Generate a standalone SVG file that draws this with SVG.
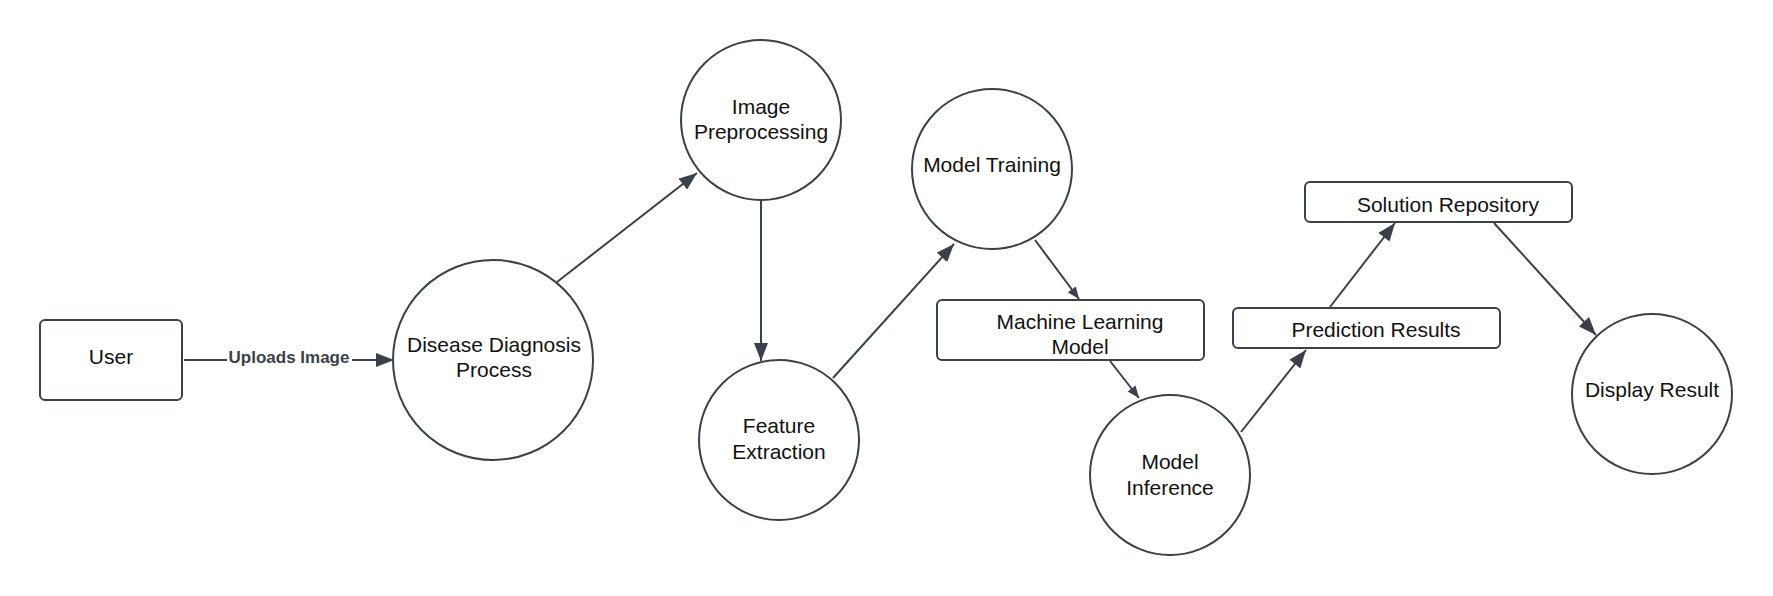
<svg xmlns="http://www.w3.org/2000/svg" width="1773" height="596" viewBox="0 0 1773 596">
<style>
.shape{fill:#fff;stroke:#3a414a;stroke-width:2}
.t{font-family:"Liberation Sans",Arial,sans-serif;font-size:21px;fill:#111;text-anchor:middle}
.lbl{font-family:"Liberation Sans",Arial,sans-serif;font-size:17px;font-weight:bold;fill:#3a414a;text-anchor:middle}
.edge{stroke:#3a414a;stroke-width:2;fill:none}
.big{marker-end:url(#ah)}
.small{marker-end:url(#ahs)}
</style>
<defs>
<marker id="ah" markerUnits="userSpaceOnUse" markerWidth="18" markerHeight="14" refX="18" refY="7" orient="auto"><path d="M0,0 L18,7 L0,14 z" fill="#3a414a"/></marker>
<marker id="ahs" markerUnits="userSpaceOnUse" markerWidth="12" markerHeight="10" refX="12" refY="5" orient="auto"><path d="M0,0 L12,5 L0,10 z" fill="#3a414a"/></marker>
</defs>
<rect width="1773" height="596" fill="#fff"/>
<g id="connectors">
<line class="edge big" x1="184" y1="360" x2="394" y2="360"/>
<rect x="227" y="347" width="125" height="22" fill="#fff"/>
<text class="lbl" x="289" y="363">Uploads Image</text>
<line class="edge big" x1="557" y1="282" x2="697" y2="173"/>
<line class="edge big" x1="761" y1="200" x2="761" y2="361"/>
<line class="edge big" x1="833" y1="378" x2="954" y2="244"/>
<line class="edge small" x1="1035" y1="240" x2="1079" y2="299"/>
<line class="edge small" x1="1110" y1="361" x2="1139" y2="398"/>
<line class="edge big" x1="1241" y1="432" x2="1306" y2="350"/>
<line class="edge big" x1="1330" y1="307" x2="1395" y2="223"/>
<line class="edge big" x1="1494" y1="223" x2="1596" y2="335"/>
</g>
<g id="user"><rect class="shape" x="40" y="320" width="142" height="80" rx="5"/><text class="t" x="111" y="364">User</text></g>
<g id="disease"><circle class="shape" cx="493" cy="360" r="100"/><text class="t" x="494" y="352">Disease Diagnosis</text><text class="t" x="494" y="377">Process</text></g>
<g id="preprocessing"><circle class="shape" cx="761" cy="120" r="80"/><text class="t" x="761" y="114">Image</text><text class="t" x="761" y="139">Preprocessing</text></g>
<g id="feature"><circle class="shape" cx="779" cy="440" r="80"/><text class="t" x="779" y="433">Feature</text><text class="t" x="779" y="459">Extraction</text></g>
<g id="training"><circle class="shape" cx="992" cy="169" r="80"/><text class="t" x="992" y="172">Model Training</text></g>
<g id="mlmodel"><rect class="shape" x="937" y="300" width="267" height="60" rx="5"/><text class="t" x="1080" y="329">Machine Learning</text><text class="t" x="1080" y="354">Model</text></g>
<g id="inference"><circle class="shape" cx="1170" cy="475" r="80"/><text class="t" x="1170" y="469">Model</text><text class="t" x="1170" y="495">Inference</text></g>
<g id="prediction"><rect class="shape" x="1233" y="308" width="267" height="40" rx="5"/><text class="t" x="1376" y="337">Prediction Results</text></g>
<g id="solution"><rect class="shape" x="1305" y="182" width="267" height="40" rx="5"/><text class="t" x="1448" y="212">Solution Repository</text></g>
<g id="display"><circle class="shape" cx="1652" cy="394" r="80"/><text class="t" x="1652" y="397">Display Result</text></g>
</svg>
